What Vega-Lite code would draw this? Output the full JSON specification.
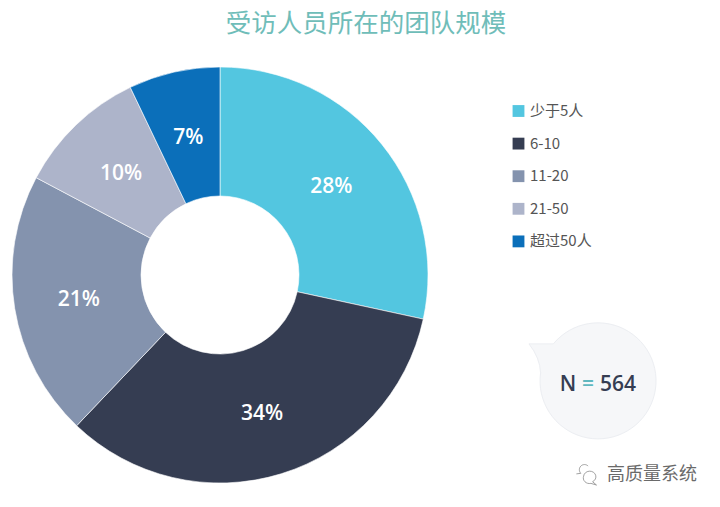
{
  "$schema": "https://vega.github.io/schema/vega-lite/v6.json",
  "width": 720,
  "height": 507,
  "autosize": {"type": "none"},
  "padding": 0,
  "background": "white",
  "title": {"text": "受访人员所在的团队规模", "orient": "top", "anchor": "middle", "frame": "group", "offset": -37, "dx": 6, "font": "Noto Sans CJK SC", "fontSize": 25.5, "fontWeight": "normal", "color": "#6fbdb9"},
  "config": {"view": {"stroke": null}},
  "datasets": {
    "teams": [
      {"team": "少于5人", "share": 0.284, "rank": 1},
      {"team": "6-10", "share": 0.337, "rank": 2},
      {"team": "11-20", "share": 0.2065, "rank": 3},
      {"team": "21-50", "share": 0.1015, "rank": 4},
      {"team": "超过50人", "share": 0.071, "rank": 5}
    ],
    "note": [{"label": "N = 564"}]
  },
  "layer": [
    {
      "data": {"name": "teams"},
      "mark": {"type": "arc", "innerRadius": 79, "outerRadius": 208, "stroke": "white", "strokeWidth": 0.6},
      "encoding": {
        "x": {"datum": 220, "type": "quantitative", "scale": {"domain": [0, 720], "nice": false}, "axis": null},
        "y": {"datum": 275, "type": "quantitative", "scale": {"domain": [507, 0], "nice": false}, "axis": null},
        "theta": {"field": "share", "type": "quantitative", "stack": true, "scale": {"domain": [0, 1]}},
        "order": {"field": "rank"},
        "color": {
          "field": "team", "type": "nominal",
          "scale": {"domain": ["少于5人", "6-10", "11-20", "21-50", "超过50人"], "range": ["#53c6e0", "#353d52", "#8493ae", "#adb4ca", "#0b6fba"]},
          "legend": {"title": null, "orient": "none", "legendX": 511, "legendY": 103.5, "symbolType": "square", "symbolSize": 140, "symbolStrokeWidth": 0, "labelFont": "Noto Sans CJK SC", "labelFontSize": 15, "labelColor": "#555555", "rowPadding": 16.6, "labelOffset": 4}
        }
      }
    },
    {
      "data": {"name": "teams"},
      "mark": {"type": "text", "radius": 143, "dy": 2, "font": "Open Sans", "fontSize": 21, "fontWeight": 600, "color": "white"},
      "encoding": {
        "x": {"datum": 220, "type": "quantitative"},
        "y": {"datum": 275, "type": "quantitative"},
        "theta": {"field": "share", "type": "quantitative", "stack": true, "scale": {"domain": [0, 1]}},
        "order": {"field": "rank"},
        "text": {"field": "share", "format": ".0%"}
      }
    },
    {
      "data": {"name": "note"},
      "mark": {"type": "point", "filled": true, "fill": "#f6f7f9", "stroke": "#eceef2", "strokeWidth": 1, "opacity": 1, "size": 13456, "shape": "M -1.19 -0.64 L -0.77 -0.64 A 1 1 0 1 1 -0.99 -0.14 Q -1.0 -0.4 -1.19 -0.64 Z"},
      "encoding": {
        "x": {"datum": 598, "type": "quantitative"},
        "y": {"datum": 381, "type": "quantitative"}
      }
    },
    {
      "data": {"values": [{"part": "N"}]},
      "mark": {"type": "text", "font": "Open Sans", "fontSize": 21, "fontWeight": 600, "color": "#353d52"},
      "encoding": {"x": {"datum": 568, "type": "quantitative"}, "y": {"datum": 385, "type": "quantitative"}, "text": {"field": "part"}}
    },
    {
      "data": {"values": [{"part": "="}]},
      "mark": {"type": "text", "font": "Open Sans", "fontSize": 21, "fontWeight": 600, "color": "#5fb7bf"},
      "encoding": {"x": {"datum": 588, "type": "quantitative"}, "y": {"datum": 385, "type": "quantitative"}, "text": {"field": "part"}}
    },
    {
      "data": {"values": [{"part": "564"}]},
      "mark": {"type": "text", "font": "Open Sans", "fontSize": 21, "fontWeight": 600, "color": "#353d52"},
      "encoding": {"x": {"datum": 618, "type": "quantitative"}, "y": {"datum": 385, "type": "quantitative"}, "text": {"field": "part"}}
    },
    {
      "data": {"values": [{"part": "高质量系统"}]},
      "mark": {"type": "text", "font": "Noto Sans CJK SC", "fontSize": 18, "color": "#6a6a6a"},
      "encoding": {"x": {"datum": 652, "type": "quantitative"}, "y": {"datum": 475, "type": "quantitative"}, "text": {"field": "part"}}
    },
    {
      "data": {"values": [{"part": "icon"}]},
      "mark": {"type": "point", "filled": false, "stroke": "#8a8a8a", "strokeWidth": 0.8, "opacity": 1, "size": 500, "shape": "M -0.95 -0.1 L -0.55 -0.15 A 0.45 0.45 0 0 1 0.1 -0.8 M -0.3 0.1 A 0.55 0.5 0 1 1 0.5 0.6 L 0.85 0.9 L 0.35 0.75 A 0.55 0.5 0 0 1 -0.3 0.1"},
      "encoding": {"x": {"datum": 587, "type": "quantitative"}, "y": {"datum": 475, "type": "quantitative"}}
    }
  ]
}
